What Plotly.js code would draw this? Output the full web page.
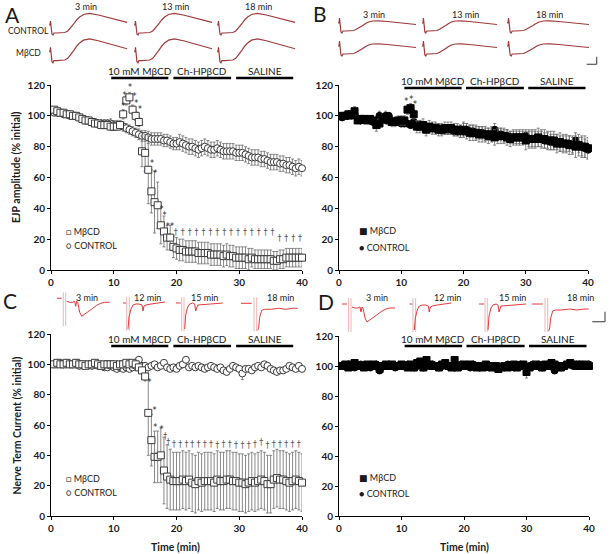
<!DOCTYPE html>
<html>
<head>
<meta charset="utf-8">
<script src="https://cdn.plot.ly/plotly-3.0.1.min.js"></script>
<style>
  body { margin: 0; background: #fff; }
  #chart { width: 611px; height: 554px; }
</style>
</head>
<body>
<div id="chart"></div>
<script>
// sample times (min), one point every 30 s
const minutes = [
  0.5, 1, 1.5, 2, 2.5, 3, 3.5, 4, 4.5, 5, 5.5, 6, 6.5, 7, 7.5, 8, 8.5, 9, 9.5, 10,
  10.5, 11, 11.5, 12, 12.5, 13, 13.5, 14, 14.5, 15, 15.5, 16, 16.5, 17, 17.5, 18, 18.5, 19, 19.5, 20,
  20.5, 21, 21.5, 22, 22.5, 23, 23.5, 24, 24.5, 25, 25.5, 26, 26.5, 27, 27.5, 28, 28.5, 29, 29.5, 30,
  30.5, 31, 31.5, 32, 32.5, 33, 33.5, 34, 34.5, 35, 35.5, 36, 36.5, 37, 37.5, 38, 38.5, 39, 39.5, 40,
];

// A: EJP amplitude, open symbols
const aMbcd = [
  104, 103, 102, 102, 101, 101, 100, 100, 99, 98, 97, 97, 96, 95, 95, 94, 94, 94, 93, 93,
  93, 94, 101, 110, 112, 104, 100, 96, 77, 76, 65, 51, 44, 42, 29, 25, 21, 21, 15, 14,
  13, 13, 12, 12, 12, 12, 11, 11, 11, 11, 10, 10, 10, 10, 9, 10, 9, 9, 8, 8,
  8, 8, 7, 8, 7, 7, 7, 7, 7, 7, 6, 6, 7, 7, 8, 8, 8, 8, 8, 8,
];
const aMbcdErr = [
  1.5, 1.5, 1.5, 1.5, 1.5, 1.5, 1.5, 1.5, 1.5, 1.5, 1.5, 1.5, 1.5, 1.5, 1.5, 1.5, 1.5, 1.5, 2, 2,
  2, 2, 3, 3, 3, 3, 3, 3, 10, 12, 22, 14, 20, 15, 12, 10, 8, 8, 7, 7,
  7, 7, 7, 7, 7, 7, 7, 7, 7, 7, 7, 7, 7, 7, 7, 7, 7, 7, 7, 7,
  7, 7, 7, 6, 6, 6, 6, 6, 6, 6, 6, 6, 6, 6, 6, 6, 6, 6, 6, 6,
];
const aCtl = [
  102, 102, 102, 101, 101, 100, 100, 100, 99, 98, 97, 97, 96, 96, 95, 95, 95, 95, 95, 94,
  94, 94, 93, 92, 91, 90, 89, 88, 87, 87, 86, 85, 85, 85, 85, 84, 84, 83, 82, 82,
  83, 82, 81, 80, 80, 79, 78, 79, 80, 79, 78, 78, 79, 78, 77, 77, 77, 77, 76, 76,
  76, 75, 74, 73, 73, 73, 72, 72, 71, 70, 70, 70, 69, 69, 68, 68, 67, 66, 67, 66,
];
const aCtlErr = [
  1, 1, 1, 1.5, 1.5, 1.5, 1.5, 2, 2, 2, 2, 2, 2, 2, 2.5, 2.5, 2.5, 2.5, 3, 3,
  3, 3, 3, 3, 3, 3, 3, 3.5, 3.5, 3.5, 4, 4, 4, 4, 4, 4, 4, 4, 4, 4,
  5, 5, 5, 5, 5, 5, 5, 5, 5, 5, 5, 5, 5, 5, 5, 5, 5, 5, 5, 5,
  5, 5, 5, 5, 5, 5, 5, 5, 5, 5, 5, 5, 5, 5, 5, 5, 5, 5, 5, 5,
];
const aStarX = [11.5, 11.7, 12.6, 13.3, 13.6, 14.2, 16.1, 16.6, 17.6, 18.1, 18.6, 19.3];
const aStarY = [106, 113, 118, 112, 108, 104, 69, 62, 39, 35, 28, 28];
const aDagX = [19.9, 21, 22.1, 23.2, 24.3, 25.4, 26.5, 27.6, 28.7, 29.8, 30.9, 32, 33.1, 34.2, 35.3, 36.4, 37.5, 38.6, 39.7];
const aDagY = [24, 24, 24, 24, 24, 24, 24, 24, 24, 24, 24, 24, 24, 24, 24, 20, 20, 20, 20];

// B: EJP amplitude, filled symbols
const bMbcd = [
  100, 100, 101, 101, 103, 97, 98, 98, 97, 98, 97, 94, 95, 98, 99, 97, 96, 96, 97, 97,
  97, 104, 105, 101, 93, 93, 94, 91, 93, 92, 92, 91, 91, 92, 92, 92, 91, 91, 90, 91,
  90, 89, 89, 89, 88, 88, 88, 87, 88, 86, 87, 87, 87, 86, 85, 86, 86, 86, 86, 84,
  85, 85, 85, 86, 85, 85, 84, 84, 84, 82, 83, 82, 82, 81, 81, 80, 81, 80, 80, 79,
];
const bMbcdErr = [
  1, 1, 1, 1.5, 3, 2, 2, 2, 2, 2, 2, 4, 3, 3, 2, 3, 3, 3, 3, 3,
  3, 3, 3, 3, 4, 4, 4, 4, 4, 4, 4, 4, 4, 4, 4, 4, 4, 4, 4, 5,
  5, 5, 5, 5, 5, 5, 5, 5, 5, 5, 5, 5, 5, 5, 5, 5, 5, 5, 5, 6,
  6, 6, 6, 6, 6, 6, 6, 6, 6, 6, 6, 6, 6, 6, 6, 7, 7, 7, 7, 7,
];
const bCtl = [
  99, 100, 100, 100, 101, 98, 97, 98, 98, 97, 96, 95, 100, 97, 100, 100, 97, 96, 96, 95,
  95, 95, 94, 96, 94, 94, 93, 93, 92, 92, 92, 92, 91, 91, 91, 91, 90, 90, 90, 91,
  91, 90, 90, 89, 89, 89, 88, 88, 88, 91, 88, 88, 87, 87, 86, 86, 86, 86, 86, 87,
  85, 85, 85, 85, 85, 84, 84, 83, 83, 83, 82, 82, 82, 82, 81, 84, 81, 80, 79, 78,
];
const bCtlErr = [
  1, 1, 1, 1, 2, 2, 2, 2, 2, 2, 2, 2, 3, 2, 3, 2, 2, 2, 2, 2,
  2, 2, 2, 2, 3, 3, 3, 3, 3, 3, 3, 3, 3, 3, 3, 3, 3, 3, 4, 4,
  4, 4, 4, 4, 4, 4, 4, 4, 4, 4, 4, 4, 4, 4, 4, 4, 4, 4, 4, 4,
  5, 5, 5, 5, 5, 5, 5, 5, 5, 5, 5, 5, 5, 5, 5, 5, 5, 6, 6, 6,
];
const bStarX = [10.8, 11.6, 12.2];
const bStarY = [109, 110, 107];

// C: nerve terminal current, open symbols
const cMbcd = [
  100, 101, 100, 100, 101, 100, 100, 101, 100, 100, 99, 100, 100, 101, 100, 99, 100, 100, 100, 100,
  99, 100, 100, 101, 100, 101, 100, 98, 96, 92, 68, 50, 39, 39, 40, 30, 26, 24, 23, 23,
  23, 24, 23, 24, 22, 21, 23, 22, 23, 23, 23, 22, 24, 23, 23, 24, 24, 23, 23, 22,
  22, 21, 22, 23, 22, 23, 24, 23, 21, 21, 24, 25, 24, 24, 23, 22, 23, 24, 23, 22,
];
const cMbcdErr = [
  1.5, 1.5, 1.5, 1.5, 1.5, 1.5, 1.5, 1.5, 1.5, 1.5, 1.5, 1.5, 1.5, 1.5, 1.5, 1.5, 1.5, 1.5, 1.5, 1.5,
  1.5, 1.5, 1.5, 1.5, 1.5, 1.5, 1.5, 1.5, 2, 3, 28, 17, 17, 17, 18, 22, 21, 20, 19, 19,
  19, 19, 19, 19, 19, 19, 19, 19, 19, 19, 19, 19, 19, 19, 19, 19, 19, 19, 19, 19,
  19, 19, 19, 19, 19, 19, 19, 19, 19, 19, 19, 19, 19, 19, 19, 19, 19, 19, 19, 19,
];
const cCtl = [
  100, 101, 101, 100, 101, 100, 100, 101, 99, 100, 100, 100, 99, 100, 99, 99, 98, 98, 99, 98,
  97, 98, 97, 98, 97, 98, 99, 103, 99, 99, 98, 99, 100, 98, 99, 101, 98, 97, 98, 97,
  99, 100, 103, 98, 99, 98, 99, 98, 97, 98, 99, 98, 97, 98, 96, 95, 97, 99, 98, 97,
  94, 97, 97, 96, 98, 99, 98, 100, 99, 97, 96, 95, 96, 96, 97, 99, 98, 97, 99, 97,
];
const cCtlErr = [
  1.5, 1.5, 1.5, 1.5, 1.5, 1.5, 1.5, 1.5, 1.5, 1.5, 1.5, 1.5, 1.5, 1.5, 1.5, 1.5, 1.5, 1.5, 1.5, 1.5,
  1.5, 1.5, 1.5, 1.5, 1.5, 1.5, 1.5, 2, 1.5, 1.5, 1.5, 1.5, 1.5, 1.5, 1.5, 1.5, 1.5, 1.5, 1.5, 1.5,
  1.5, 1.5, 2, 1.5, 1.5, 1.5, 1.5, 1.5, 1.5, 1.5, 1.5, 1.5, 1.5, 1.5, 1.5, 2, 1.5, 1.5, 1.5, 1.5,
  4, 1.5, 1.5, 1.5, 1.5, 1.5, 1.5, 2, 1.5, 1.5, 1.5, 1.5, 1.5, 1.5, 1.5, 1.5, 1.5, 1.5, 1.5, 1.5,
];
const cStarX = [15.7, 16.5, 16.6, 17.6];
const cStarY = [88, 69, 58, 57];
const cDagX = [18.2, 18.7, 19.6, 20.6, 21.6, 22.5, 23.5, 24.5, 25.5, 26.5, 27.5, 28.5, 29.5, 30.5, 31.5, 32.5, 33.5, 34.5, 35.5, 36.5, 37.5, 38.5, 39.5];
const cDagY = [52, 48, 47, 47, 47, 47, 47, 47, 47, 46, 47, 47, 46, 46, 46, 47, 48, 46, 47, 47, 47, 47, 47];

// D: nerve terminal current, filled symbols
const dMbcd = [
  100, 101, 99, 101, 102, 100, 100, 99, 101, 100, 101, 100, 98, 100, 101, 100, 101, 100, 100, 101,
  100, 99, 101, 99, 102, 103, 99, 104, 101, 100, 100, 99, 101, 102, 100, 99, 104, 99, 100, 101,
  100, 101, 100, 99, 100, 99, 101, 100, 99, 100, 98, 99, 100, 99, 100, 101, 99, 100, 101, 96,
  99, 100, 101, 100, 99, 101, 100, 102, 101, 100, 99, 100, 101, 102, 101, 100, 101, 100, 101, 100,
];
const dMbcdErr = [
  1.5, 1.5, 1.5, 1.5, 1.5, 1.5, 1.5, 1.5, 1.5, 1.5, 1.5, 1.5, 1.5, 1.5, 1.5, 1.5, 1.5, 1.5, 1.5, 1.5,
  1.5, 1.5, 1.5, 1.5, 1.5, 2, 1.5, 2, 1.5, 1.5, 1.5, 1.5, 1.5, 1.5, 1.5, 1.5, 2, 1.5, 1.5, 1.5,
  1.5, 1.5, 1.5, 1.5, 1.5, 1.5, 1.5, 1.5, 1.5, 1.5, 1.5, 1.5, 1.5, 1.5, 1.5, 1.5, 1.5, 1.5, 1.5, 4,
  1.5, 1.5, 1.5, 1.5, 1.5, 1.5, 1.5, 1.5, 1.5, 1.5, 1.5, 1.5, 1.5, 1.5, 1.5, 1.5, 1.5, 1.5, 1.5, 1.5,
];
const dCtl = [
  100, 100, 101, 100, 99, 100, 101, 100, 100, 99, 100, 101, 97, 100, 100, 101, 100, 99, 100, 100,
  100, 101, 100, 99, 100, 101, 99, 100, 100, 101, 100, 99, 100, 101, 100, 100, 99, 100, 101, 100,
  100, 99, 101, 100, 99, 100, 100, 99, 100, 100, 100, 99, 100, 101, 100, 99, 100, 101, 100, 99,
  100, 101, 100, 101, 99, 100, 101, 100, 97, 100, 99, 100, 101, 101, 100, 100, 101, 100, 100, 101,
];
const dCtlErr = [
  1.5, 1.5, 1.5, 1.5, 1.5, 1.5, 1.5, 1.5, 1.5, 1.5, 1.5, 1.5, 1.5, 1.5, 1.5, 1.5, 1.5, 1.5, 1.5, 1.5,
  1.5, 1.5, 1.5, 1.5, 1.5, 1.5, 1.5, 1.5, 1.5, 1.5, 1.5, 1.5, 1.5, 1.5, 1.5, 1.5, 1.5, 1.5, 1.5, 1.5,
  1.5, 1.5, 1.5, 1.5, 1.5, 1.5, 1.5, 1.5, 1.5, 1.5, 1.5, 1.5, 1.5, 1.5, 1.5, 1.5, 1.5, 1.5, 1.5, 1.5,
  1.5, 1.5, 1.5, 1.5, 1.5, 1.5, 1.5, 1.5, 1.5, 1.5, 1.5, 1.5, 1.5, 1.5, 1.5, 1.5, 1.5, 1.5, 1.5, 1.5,
];

// treatment periods (min) and their labels
const treatLabels = ['10 mM M\u03b2CD', 'Ch-HP\u03b2CD', 'SALINE'];
const treatLeft = [[9.6, 18.7], [19.5, 28.7], [29.5, 38.6]];   // panels A, C
const treatRight = [[10.5, 19.7], [20.4, 29.7], [30.4, 39.6]]; // panels B, D

// example recordings: EJP and nerve terminal current (px-like units)
const ejpX = [0, 1, 1.5, 2, 3, 4, 5, 8, 12, 16, 19, 22, 25, 28, 31, 35, 41, 50, 60, 70, 79];
const ejpYA = [0, 0, 4, 0, -9, -10, -8, -8, -8, -7.5, -6, -3, 1, 5, 8, 10.5, 11.7, 10, 7.5, 5, 2.7];
const ejpYB = [0, 0, 5, 0, -9, -10, -8, -8, -8, -7.5, -6, -4.5, -2.5, -0.5, 1, 2, 2.2, 1.5, 0.5, -0.5, -1.5];
const artY = [6, -28, null, 6, -28];
const cur3X = [0, 5, null, 10, 13, 16, 18, 19, 20, 21, 23, 25, 28, 32, 36, 40, 44, 48, 53];
const cur3Y = [0, 0, null, -3, -4, -4, -3, -8, -3, -4, -14, -18, -16, -13, -10, -7, -5, -4, -4];
const art3X = [6.6, 6.6, null, 9, 9];
const cur12X = [0, 3, null, 5, 6, 8, 10, 13, 16, 19, 20, 21, 23, 28, 35, 42];
const cur12Y = [0, 0, null, -26, -14, -6, -2, -1, -1, -2, -8, -3, -2, -1, 0, 1];
const art12X = [3.7, 3.7, null, 6.3, 6.3];
const cur15X = [0, 5, null, 9, 10, 12, 14, 17, 19, 20, 22, 35, 47];
const cur15Y = [0, 0, null, -26, -12, -4, -1, 0, -1, -8, -2, -1, 0];
const art15X = [6, 6, null, 8.3, 8.3];
const cur18X = [0, 11, null, 17, 18, 19, 21, 24, 30, 38, 45, 52, 57];
const cur18Y = [0, 0, null, -27, -24, -14, -7, -6, -6, -5, -6, -5, -5];
const art18X = [13.3, 13.3, null, 16, 16];

const W = 611;
const H = 554;
const px = (x) => x / W;
const py = (y) => 1 - y / H;
const FONT = 'Lato, "Open Sans", "DejaVu Sans", sans-serif';

const traces = [];
const shapes = [];
const annotations = [];
const layout = {
  width: W,
  height: H,
  margin: { l: 0, r: 0, t: 0, b: 0 },
  paper_bgcolor: '#fff',
  plot_bgcolor: 'rgba(0,0,0,0)',
  showlegend: false,
  font: { family: FONT, color: '#1a1a1a' },
};

function text(str, x, y, size, opts) {
  annotations.push(Object.assign({
    text: str, xref: 'paper', yref: 'paper', x: px(x), y: py(y),
    showarrow: false, xanchor: 'center', yanchor: 'middle',
    font: { family: FONT, size, color: '#1a1a1a' },
  }, opts || {}));
}

// main panels
const panels = [
  { id: '', box: [51, 302, 85, 270], treat: treatLeft, barY: 78, labY: 71, open: true,
    mb: aMbcd, mbErr: aMbcdErr, ct: aCtl, ctErr: aCtlErr },
  { id: '2', box: [339, 588, 85, 270], treat: treatRight, barY: 88, labY: 81, open: false,
    mb: bMbcd, mbErr: bMbcdErr, ct: bCtl, ctErr: bCtlErr },
  { id: '3', box: [51, 302, 334, 516], treat: treatLeft, barY: 346, labY: 339, open: true,
    mb: cMbcd, mbErr: cMbcdErr, ct: cCtl, ctErr: cCtlErr },
  { id: '4', box: [339, 589, 336, 516], treat: treatRight, barY: 346, labY: 339, open: false,
    mb: dMbcd, mbErr: dMbcdErr, ct: dCtl, ctErr: dCtlErr },
];

panels.forEach((p) => {
  const axStyle = {
    showline: true, linecolor: '#000', linewidth: 1, mirror: false,
    ticks: 'outside', ticklen: 3, tickwidth: 1, tickcolor: '#000',
    showgrid: false, zeroline: false, fixedrange: true,
    tickfont: { family: FONT, size: 10, weight: 'bold', color: '#1a1a1a' },
  };
  layout['xaxis' + p.id] = Object.assign({}, axStyle, {
    domain: [px(p.box[0]), px(p.box[1])], range: [0, 40], dtick: 10, anchor: 'y' + p.id,
  });
  layout['yaxis' + p.id] = Object.assign({}, axStyle, {
    domain: [py(p.box[3]), py(p.box[2])], range: [0, 120], dtick: 20, anchor: 'x' + p.id,
  });

  const edge = '#3a3a3a';
  const fill = p.open ? '#fff' : '#000';
  const err = (arr) => ({ type: 'data', array: arr, color: '#6a6a6a', thickness: 0.8, width: 1.5 });
  traces.push({
    type: 'scatter', mode: 'markers', x: minutes, y: p.ct, error_y: err(p.ctErr),
    xaxis: 'x' + p.id, yaxis: 'y' + p.id, cliponaxis: false,
    marker: { symbol: 'circle', size: 7, color: fill, line: { color: p.open ? edge : '#000', width: 1 } },
  });
  traces.push({
    type: 'scatter', mode: 'markers', x: minutes, y: p.mb, error_y: err(p.mbErr),
    xaxis: 'x' + p.id, yaxis: 'y' + p.id, cliponaxis: false,
    marker: { symbol: 'square', size: 7, color: fill, line: { color: p.open ? edge : '#000', width: 1 } },
  });

  // treatment bars over the top of each panel
  p.treat.forEach((t, i) => {
    shapes.push({
      type: 'line', xref: 'x' + p.id, yref: 'paper', x0: t[0], x1: t[1],
      y0: py(p.barY), y1: py(p.barY), line: { color: '#000', width: 2.5 },
    });
    annotations.push({
      text: treatLabels[i], xref: 'x' + p.id, yref: 'paper', x: (t[0] + t[1]) / 2, y: py(p.labY),
      showarrow: false, xanchor: 'center', yanchor: 'middle',
      font: { family: FONT, size: 10, color: '#1a1a1a' },
    });
  });
});

// significance markers
function marks(xs, ys, sym, ax, color) {
  traces.push({
    type: 'scatter', mode: 'text', x: xs, y: ys, text: xs.map(() => sym),
    xaxis: 'x' + ax, yaxis: 'y' + ax, cliponaxis: false, hoverinfo: 'skip',
    textfont: { family: '"DejaVu Sans", "Liberation Sans", sans-serif', size: 8, color },
  });
}
marks(aStarX, aStarY, '*', '', '#222');
marks(aDagX, aDagY, '\u2020', '', '#555');
marks(bStarX, bStarY, '*', '2', '#222');
marks(cStarX, cStarY, '*', '3', '#222');
marks(cDagX, cDagY, '\u2020', '3', '#555');

// inset recordings, each on its own hidden axes
let axN = 5;
function inset(box, xr, yr, series) {
  const n = axN;
  axN += 1;
  layout['xaxis' + n] = { domain: [px(box[0]), px(box[1])], range: xr, visible: false, anchor: 'y' + n, fixedrange: true };
  layout['yaxis' + n] = { domain: [py(box[3]), py(box[2])], range: yr, visible: false, anchor: 'x' + n, fixedrange: true };
  series.forEach((s) => {
    traces.push({
      type: 'scatter', mode: 'lines', x: s.x, y: s.y, xaxis: 'x' + n, yaxis: 'y' + n,
      line: s.line, hoverinfo: 'skip', connectgaps: false,
    });
  });
}

const ejpLine = { color: '#9e3a3a', width: 1.2 };
[[49, 128], [134, 213], [217, 296]].forEach((b) => {
  inset([b[0], b[1], 11, 37], [0, 80], [-12, 14], [{ x: ejpX, y: ejpYA, line: ejpLine }]);
  inset([b[0], b[1], 36.3, 65], [0, 80], [-12, 14], [{ x: ejpX, y: ejpYA, line: ejpLine }]);
});
[[338, 417], [422, 498], [507, 590]].forEach((b) => {
  inset([b[0], b[1], 9, 35], [0, 80], [-12, 14], [{ x: ejpX, y: ejpYB, line: ejpLine }]);
  inset([b[0], b[1], 32, 58], [0, 80], [-12, 14], [{ x: ejpX, y: ejpYB, line: ejpLine }]);
});

const curLine = { color: '#e23a3a', width: 1 };
const artLine = { color: '#e9a3a3', width: 0.8 };
const curSets = [
  [cur3X, cur3Y, art3X], [cur12X, cur12Y, art12X], [cur15X, cur15Y, art15X], [cur18X, cur18Y, art18X],
];
const cStarts = [[56.7, 298.3], [123, 303], [175.7, 303], [240.7, 303.3]];
const dStarts = [[342, 304], [409.3, 304], [479, 304], [531.7, 304]];
[cStarts, dStarts].forEach((starts) => {
  starts.forEach((s, i) => {
    const set = curSets[i];
    inset([s[0], s[0] + 60, s[1] - 8, s[1] + 30], [0, 60], [-30, 8], [
      { x: set[2], y: artY, line: artLine },
      { x: set[0], y: set[1], line: curLine },
    ]);
  });
});

// scale bars
const scaleCol = '#555';
shapes.push({ type: 'line', xref: 'paper', yref: 'paper', x0: px(596.7), x1: px(596.7), y0: py(56.7), y1: py(64.3), line: { color: scaleCol, width: 1.2 } });
shapes.push({ type: 'line', xref: 'paper', yref: 'paper', x0: px(586.7), x1: px(596.7), y0: py(64.3), y1: py(64.3), line: { color: scaleCol, width: 1.2 } });
shapes.push({ type: 'line', xref: 'paper', yref: 'paper', x0: px(605), x1: px(605), y0: py(311.7), y1: py(321.7), line: { color: scaleCol, width: 1.2 } });
shapes.push({ type: 'line', xref: 'paper', yref: 'paper', x0: px(592.3), x1: px(605), y0: py(321.7), y1: py(321.7), line: { color: scaleCol, width: 1.2 } });

// panel letters
text('A', 12.5, 14, 21);
text('B', 320, 13, 21);
text('C', 10, 300, 21);
text('D', 325.5, 301, 21);

// inset labels
text('3 min', 86, 7, 9);
text('13 min', 175, 7, 9);
text('18 min', 258, 7, 9);
text('CONTROL', 28, 31, 8.5);
text('M\u03b2CD', 28, 53, 8.5);
text('3 min', 374, 14, 9);
text('13 min', 466, 14, 9);
text('18 min', 549, 14, 9);
[['3 min', 86.5], ['12 min', 147.5], ['15 min', 205], ['18 min', 280],
  ['3 min', 376.5], ['12 min', 447], ['15 min', 512], ['18 min', 580]].forEach((l) => text(l[0], l[1], 297, 9));

// axis titles
text('<b>EJP amplitude (% initial)</b>', 16, 167, 10.5, { textangle: -90 });
text('<b>Nerve Term Current (% initial)</b>', 16.5, 426, 10.5, { textangle: -90 });
text('<b>Time (min)</b>', 175, 546.5, 10.5);
text('<b>Time (min)</b>', 464, 546.5, 10.5);

// legends
const legOpen = [[64, 232, 245.7], [64, 478, 492]];
legOpen.forEach((l) => {
  text('\u25a1 M\u03b2CD', l[0], l[1], 9, { xanchor: 'left' });
  text('\u25cb CONTROL', l[0], l[2], 9, { xanchor: 'left' });
});
const legFilled = [[356.7, 230, 247], [356.7, 477, 493]];
legFilled.forEach((l) => {
  text('\u25a0 M\u03b2CD', l[0], l[1], 9, { xanchor: 'left' });
  text('\u25cf CONTROL', l[0], l[2], 9, { xanchor: 'left' });
});

layout.shapes = shapes;
layout.annotations = annotations;

Plotly.newPlot('chart', traces, layout, { staticPlot: true, displayModeBar: false });
</script>
</body>
</html>
